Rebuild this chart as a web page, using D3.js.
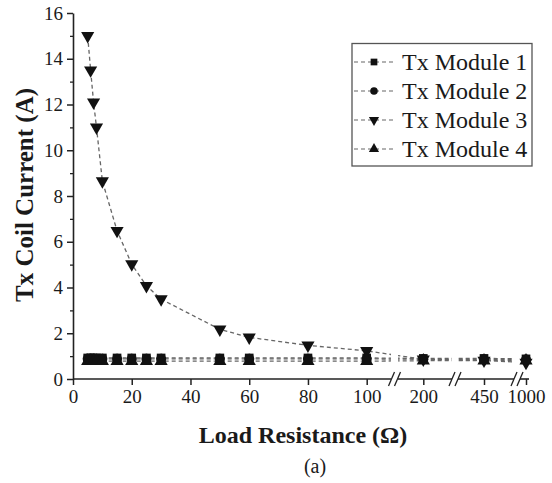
<!DOCTYPE html>
<html>
<head>
<meta charset="utf-8">
<script src="https://cdn.jsdelivr.net/npm/d3@7/dist/d3.min.js"></script>
<style>
  html, body { margin: 0; padding: 0; background: #fff; }
  svg text { font-family: "Liberation Serif", "Times New Roman", serif; fill: #1a1a1a; }
</style>
</head>
<body>
<svg id="chart" width="552" height="483"></svg>
<script>
// Load resistance values (ohms) at which each coil current was measured
const resistance = [5, 6, 7, 8, 10, 15, 20, 25, 30, 50, 60, 80, 100, 200, 450, 1000];

// Tx coil current (A) per module
const module1 = [0.92, 0.92, 0.92, 0.92, 0.92, 0.92, 0.92, 0.92, 0.92, 0.92, 0.92, 0.92, 0.92, 0.90, 0.90, 0.88];
const module2 = [0.88, 0.88, 0.88, 0.88, 0.88, 0.88, 0.88, 0.88, 0.88, 0.88, 0.88, 0.88, 0.88, 0.86, 0.86, 0.85];
const module3 = [15.0, 13.5, 12.1, 11.0, 8.65, 6.48, 5.02, 4.07, 3.49, 2.17, 1.82, 1.47, 1.23, 0.86, 0.81, 0.72];
const module4 = [0.78, 0.78, 0.78, 0.78, 0.78, 0.78, 0.78, 0.78, 0.78, 0.78, 0.78, 0.78, 0.78, 0.80, 0.80, 0.80];

const seriesNames = ["Tx Module 1", "Tx Module 2", "Tx Module 3", "Tx Module 4"];
const seriesSymbols = [d3.symbolSquare, d3.symbolCircle, "down", d3.symbolTriangle];

// Tick labels
const xTicks = [0, 20, 40, 60, 80, 100, 200, 450, 1000];
const yMajorTicks = [0, 2, 4, 6, 8, 10, 12, 14, 16];
const yMinorTicks = [1, 3, 5, 7, 9, 11, 13, 15];

const svg = d3.select("#chart");

// Broken x axis: linear 0-100, then single positions for 200, 450 and 1000
const x = d3.scaleLinear()
  .domain([0, 100, 200, 450, 1000])
  .range([73, 366.7, 423.3, 484, 526]);
const y = d3.scaleLinear().domain([0, 16]).range([379, 13]);

// Axis segments separated by break marks
const segments = [[73, 391], [398, 452], [458, 514], [520, 529]];
const breaks = [394.5, 455, 517];

const defs = svg.append("defs");
segments.forEach((s, i) => {
  defs.append("clipPath").attr("id", "seg" + i)
    .append("rect").attr("x", s[0]).attr("y", 0).attr("width", s[1] - s[0]).attr("height", 400);
});

// ---- axes ----
const axisColor = "#222";
const xAxis = svg.append("g").attr("transform", `translate(0,${y(0)})`)
  .call(d3.axisBottom(x).tickValues(xTicks).tickSize(6).tickPadding(5).tickFormat(d3.format("d")));
xAxis.select(".domain").remove();
xAxis.selectAll("line").attr("stroke", axisColor).attr("stroke-width", 1.5);
xAxis.selectAll("text").attr("font-size", 19).attr("fill", "#1a1a1a");

segments.forEach(s => {
  svg.append("line").attr("x1", s[0]).attr("x2", s[1]).attr("y1", y(0)).attr("y2", y(0))
    .attr("stroke", axisColor).attr("stroke-width", 1.6);
});
breaks.forEach(b => {
  [-3, 3].forEach(off => {
    svg.append("line")
      .attr("x1", b + off - 3).attr("y1", y(0) + 7)
      .attr("x2", b + off + 3).attr("y2", y(0) - 7)
      .attr("stroke", axisColor).attr("stroke-width", 1.3);
  });
});

const yAxis = svg.append("g").attr("transform", "translate(73,0)")
  .call(d3.axisLeft(y).tickValues(yMajorTicks).tickSize(6).tickPadding(4).tickSizeOuter(0));
yAxis.select(".domain").attr("stroke", axisColor).attr("stroke-width", 1.6);
yAxis.selectAll("line").attr("stroke", axisColor).attr("stroke-width", 1.5);
yAxis.selectAll("text").attr("font-size", 19).attr("fill", "#1a1a1a");

const yMinor = svg.append("g").attr("transform", "translate(73,0)")
  .call(d3.axisLeft(y).tickValues(yMinorTicks).tickSize(3).tickFormat(""));
yMinor.select(".domain").remove();
yMinor.selectAll("line").attr("stroke", axisColor).attr("stroke-width", 1.3);

// ---- axis titles ----
svg.append("text").attr("x", 303).attr("y", 443).attr("text-anchor", "middle")
  .attr("font-size", 24).attr("font-weight", "bold").text("Load Resistance (Ω)");
svg.append("text").attr("x", 315).attr("y", 473).attr("text-anchor", "middle")
  .attr("font-size", 20).text("(a)");
svg.append("text").attr("transform", "translate(33,195) rotate(-90)").attr("text-anchor", "middle")
  .attr("font-size", 25).attr("font-weight", "bold").text("Tx Coil Current (A)");

// ---- series ----
const allSeries = [module1, module2, module3, module4];
const line = d3.line().x((d, i) => x(resistance[i])).y(d => y(d));

function drawMarker(g, sym, cx, cy, size) {
  if (sym === "down") {
    g.append("path").attr("d", d3.symbol(d3.symbolTriangle, size)())
      .attr("transform", `translate(${cx},${cy}) rotate(180)`).attr("fill", "#111");
  } else {
    g.append("path").attr("d", d3.symbol(sym, size)())
      .attr("transform", `translate(${cx},${cy})`).attr("fill", "#111");
  }
}

allSeries.forEach((vals, si) => {
  segments.forEach((s, i) => {
    svg.append("path").datum(vals).attr("d", line)
      .attr("clip-path", `url(#seg${i})`)
      .attr("fill", "none").attr("stroke", "#666").attr("stroke-width", 1.3)
      .attr("stroke-dasharray", "4,3");
  });
});
allSeries.forEach((vals, si) => {
  const g = svg.append("g");
  vals.forEach((v, i) => drawMarker(g, seriesSymbols[si], x(resistance[i]), y(v), si === 1 ? 80 : 75));
});

// ---- legend ----
const legend = svg.append("g");
legend.append("rect").attr("x", 352).attr("y", 43.5).attr("width", 180).attr("height", 122.5)
  .attr("fill", "#fff").attr("stroke", "#555").attr("stroke-width", 1.3);
seriesNames.forEach((name, i) => {
  const ly = 62 + i * 29;
  legend.append("line").attr("x1", 354).attr("x2", 394).attr("y1", ly).attr("y2", ly)
    .attr("stroke", "#666").attr("stroke-width", 1.2).attr("stroke-dasharray", "4,3");
  drawMarker(legend, seriesSymbols[i], 374, ly, 45);
  legend.append("text").attr("x", 402).attr("y", ly + 8).attr("font-size", 24).text(name);
});
</script>
</body>
</html>
